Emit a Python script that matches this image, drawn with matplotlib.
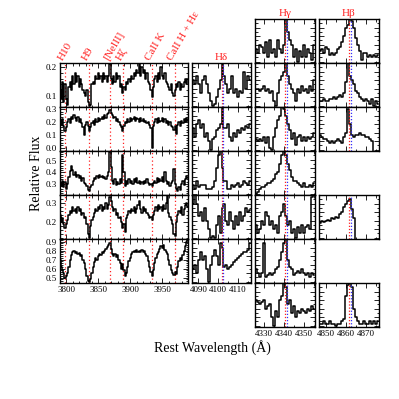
import numpy as np
import matplotlib
matplotlib.use('Agg')
import matplotlib.pyplot as plt
from matplotlib.ticker import MultipleLocator, AutoMinorLocator, NullFormatter

plt.rcParams['font.family'] = ['Liberation Serif', 'DejaVu Serif']
plt.rcParams['mathtext.fontset'] = 'stix'

# ---- data ----
# main spectra: 3790-3990 A in 2 A bins, one list per row (top to bottom)
main_start = 3790
main_step = 2
flux_1 = [0.12, 0.09, 0.15, 0.08, 0.14, 0.09, 0.07, 0.13, 0.15, 0.12, 0.17, 0.14, 0.18, 0.15, 0.17, 0.13, 0.16,
          0.14, 0.12, 0.11, 0.10, 0.12, 0.08, 0.065, 0.07, 0.14, 0.15, 0.14, 0.17, 0.16, 0.18, 0.16, 0.17, 0.15,
          0.18, 0.16, 0.17, 0.15, 0.17, 0.21, 0.16, 0.14, 0.17, 0.15, 0.18, 0.16, 0.17, 0.13, 0.14, 0.11, 0.13,
          0.12, 0.15, 0.14, 0.16, 0.15, 0.17, 0.16, 0.18, 0.17, 0.19, 0.18, 0.21, 0.17, 0.20, 0.18, 0.19, 0.16,
          0.18, 0.15, 0.14, 0.12, 0.095, 0.13, 0.16, 0.17, 0.15, 0.18, 0.16, 0.20, 0.17, 0.16, 0.18, 0.15, 0.14,
          0.13, 0.12, 0.14, 0.11, 0.10, 0.12, 0.14, 0.13, 0.15, 0.12, 0.14, 0.13, 0.15, 0.16, 0.14, 0.16]
flux_2 = [0.21, 0.18, 0.22, 0.17, 0.13, 0.16, 0.20, 0.22, 0.19, 0.24, 0.22, 0.25, 0.23, 0.21, 0.24, 0.20, 0.22,
          0.19, 0.16, 0.10, 0.18, 0.20, 0.17, 0.13, 0.16, 0.19, 0.21, 0.18, 0.22, 0.20, 0.23, 0.21, 0.22, 0.24,
          0.22, 0.25, 0.23, 0.26, 0.27, 0.29, 0.27, 0.25, 0.23, 0.24, 0.21, 0.22, 0.20, 0.18, 0.16, 0.13, 0.17,
          0.20, 0.19, 0.22, 0.20, 0.23, 0.21, 0.22, 0.24, 0.21, 0.23, 0.22, 0.20, 0.23, 0.21, 0.22, 0.20, 0.21,
          0.19, 0.20, 0.18, 0.15, 0.0, 0.17, 0.20, 0.22, 0.19, 0.23, 0.20, 0.21, 0.23, 0.20, 0.22, 0.19, 0.21,
          0.18, 0.20, 0.17, 0.16, 0.14, 0.17, 0.11, 0.18, 0.20, 0.17, 0.21, 0.19, 0.22, 0.20, 0.23, 0.21]
flux_3 = [0.31, 0.28, 0.33, 0.27, 0.32, 0.26, 0.30, 0.36, 0.41, 0.46, 0.42, 0.38, 0.40, 0.36, 0.38, 0.35, 0.37,
          0.33, 0.35, 0.31, 0.30, 0.28, 0.25, 0.24, 0.27, 0.29, 0.33, 0.35, 0.34, 0.37, 0.35, 0.38, 0.36, 0.37,
          0.35, 0.36, 0.34, 0.37, 0.40, 0.58, 0.45, 0.33, 0.30, 0.34, 0.29, 0.32, 0.30, 0.34, 0.31, 0.55, 0.40,
          0.28, 0.33, 0.30, 0.34, 0.31, 0.33, 0.30, 0.34, 0.32, 0.35, 0.31, 0.33, 0.30, 0.32, 0.30, 0.33, 0.31,
          0.34, 0.31, 0.29, 0.30, 0.28, 0.31, 0.33, 0.31, 0.35, 0.32, 0.34, 0.33, 0.36, 0.32, 0.40, 0.33, 0.30,
          0.32, 0.28, 0.31, 0.33, 0.43, 0.30, 0.26, 0.24, 0.27, 0.25, 0.30, 0.33, 0.29, 0.34, 0.37, 0.35]
flux_4 = [0.24, 0.20, 0.22, 0.19, 0.17, 0.19, 0.21, 0.24, 0.26, 0.25, 0.28, 0.26, 0.27, 0.25, 0.28, 0.26, 0.27,
          0.24, 0.25, 0.22, 0.23, 0.19, 0.14, 0.12, 0.18, 0.21, 0.23, 0.25, 0.27, 0.26, 0.28, 0.27, 0.29, 0.26,
          0.28, 0.27, 0.30, 0.27, 0.29, 0.33, 0.31, 0.28, 0.26, 0.27, 0.24, 0.25, 0.22, 0.23, 0.20, 0.17, 0.19,
          0.15, 0.22, 0.24, 0.26, 0.25, 0.27, 0.26, 0.28, 0.25, 0.27, 0.29, 0.31, 0.27, 0.25, 0.28, 0.26, 0.27,
          0.25, 0.24, 0.22, 0.23, 0.21, 0.24, 0.26, 0.28, 0.26, 0.29, 0.27, 0.28, 0.26, 0.29, 0.27, 0.30, 0.34,
          0.25, 0.23, 0.21, 0.19, 0.14, 0.13, 0.20, 0.24, 0.26, 0.25, 0.28, 0.24, 0.27, 0.29, 0.30, 0.28]
flux_5 = [0.70, 0.62, 0.58, 0.55, 0.50, 0.52, 0.55, 0.62, 0.70, 0.75, 0.78, 0.80, 0.77, 0.79, 0.76, 0.77, 0.74,
          0.75, 0.70, 0.66, 0.60, 0.52, 0.46, 0.45, 0.48, 0.55, 0.62, 0.67, 0.72, 0.70, 0.74, 0.76, 0.75, 0.79,
          0.77, 0.80, 0.82, 0.84, 0.86, 0.89, 0.82, 0.76, 0.74, 0.76, 0.73, 0.75, 0.70, 0.66, 0.60, 0.65, 0.58,
          0.52, 0.55, 0.62, 0.68, 0.72, 0.76, 0.78, 0.80, 0.78, 0.81, 0.79, 0.80, 0.78, 0.81, 0.79, 0.80, 0.76,
          0.74, 0.68, 0.62, 0.56, 0.52, 0.58, 0.66, 0.72, 0.76, 0.79, 0.82, 0.85, 0.83, 0.86, 0.81, 0.78, 0.76,
          0.70, 0.64, 0.58, 0.55, 0.53, 0.56, 0.54, 0.62, 0.68, 0.72, 0.70, 0.75, 0.80, 0.85, 0.90, 0.93]
main_flux = [flux_1, flux_2, flux_3, flux_4, flux_5]
main_ylims = [(0.062, 0.214), (-0.023, 0.315), (0.204, 0.587), (0.115, 0.34), (0.44, 0.93)]
main_yticks = [[0.1, 0.2], [0.0, 0.1, 0.2, 0.3], [0.3, 0.4, 0.5], [0.2, 0.3], [0.5, 0.6, 0.7, 0.8, 0.9]]

line_waves = [3798.0, 3835.4, 3868.8, 3889.1, 3933.7, 3969.0]
line_names = ['H10', 'H9', '[NeIII]', 'H\u03b6', 'CaII K', 'CaII H + H\u03b5']

# zoomed Balmer panels: 1 A bins from line-15 A, normalised flux
hdelta_wave = 4101.74
hdelta_rows = [1, 2, 3, 4, 5]
hdelta_flux = [
    [0.6, 0.5, 0.7, 0.5, 0.3, 0.6, 0.7, 0.5, 0.3, 0.1, 0.0, 0.05, 0.2, 0.4, 0.6, 1.0, 0.7, 0.5, 0.3, 0.4,
     0.7, 0.3, 0.4, 0.2, 0.35, 0.3, 0.8, 0.4, 0.7, 0.6],
    [0.5, 0.3, 0.6, 0.7, 0.5, 0.6, 0.3, 0.4, 0.2, 0.0, 0.25, 0.3, 0.45, 0.5, 0.6, 1.0, 0.5, 0.5, 0.6, 0.3,
     0.2, 0.4, 0.3, 0.45, 0.4, 0.5, 0.45, 0.55, 0.5, 0.6],
    [0.2, 0.1, 0.3, 0.15, 0.2, 0.2, 0.2, 0.1, 0.12, 0.1, 0.15, 0.3, 0.6, 0.9, 1.0, 0.6, 0.3, 0.3, 0.1, 0.1,
     0.2, 0.15, 0.2, 0.25, 0.15, 0.2, 0.3, 0.25, 0.2, 0.3],
    [0.8, 1.0, 0.8, 0.5, 0.6, 0.4, 0.7, 0.4, 0.2, 0.0, 0.05, 0.0, 0.3, 0.5, 0.1, 0.7, 0.8, 0.4, 0.3, 0.6,
     0.4, 0.2, 0.5, 0.3, 0.6, 0.4, 0.5, 0.7, 0.6, 0.65],
    [0.3, 0.4, 0.2, 0.5, 0.7, 0.5, 0.6, 0.3, 0.0, 0.4, 0.6, 0.75, 0.6, 0.4, 0.9, 0.8, 0.35, 0.4, 0.3, 0.35,
     0.4, 0.45, 0.5, 0.55, 0.6, 0.65, 0.7, 0.7, 0.75, 0.9],
]
hgamma_wave = 4340.47
hgamma_rows = [0, 1, 2, 3, 4, 5, 6]
hgamma_flux = [
    [0.3, 0.2, 0.4, 0.35, 0.2, 0.45, 0.1, 0.5, 0.2, 0.3, 0.1, 0.5, 0.3, 0.2, 0.4, 1.0, 0.7, 0.5, 0.4, 0.1,
     0.3, 0.0, 0.25, 0.1, 0.4, 0.1, 0.3, 0.2, 0.05, 0.4],
    [0.4, 0.4, 0.35, 0.4, 0.45, 0.35, 0.4, 0.3, 0.35, 0.1, 0.0, 0.3, 0.6, 0.7, 0.8, 1.0, 0.7, 0.5, 0.4, 0.3,
     0.1, 0.4, 0.3, 0.45, 0.35, 0.4, 0.3, 0.45, 0.35, 0.6],
    [0.25, 0.2, 0.25, 0.2, 0.3, 0.15, 0.3, 0.05, 0.0, 0.3, 0.5, 0.7, 0.8, 1.0, 0.95, 0.8, 0.6, 0.45, 0.25, 0.4,
     0.1, 0.3, 0.35, 0.2, 0.3, 0.2, 0.3, 0.25, 0.3, 0.4],
    [0.0, 0.05, 0.1, 0.15, 0.15, 0.2, 0.25, 0.25, 0.3, 0.35, 0.45, 0.5, 0.7, 0.9, 1.0, 0.9, 0.7, 0.55, 0.4, 0.3,
     0.3, 0.25, 0.2, 0.15, 0.25, 0.15, 0.15, 0.2, 0.15, 0.25],
    [0.3, 0.1, 0.2, 0.4, 0.3, 0.6, 0.5, 0.3, 0.4, 0.2, 0.3, 0.1, 0.5, 0.6, 0.8, 0.5, 0.3, 0.4, 0.1, 0.2,
     0.0, 0.25, 0.1, 0.3, 0.1, 0.25, 0.3, 0.2, 0.95, 1.0],
    [0.3, 0.2, 0.1, 0.2, 0.9, 0.1, 0.15, 0.2, 0.15, 0.2, 0.3, 0.35, 0.5, 0.7, 0.9, 1.0, 0.5, 0.35, 0.3, 0.15,
     0.2, 0.25, 0.2, 0.3, 0.2, 0.15, 0.2, 0.1, 0.2, 0.15],
    [0.6, 0.55, 0.5, 0.55, 0.6, 0.4, 0.45, 0.5, 0.2, 0.0, 0.35, 0.2, 0.6, 0.7, 1.0, 0.9, 0.5, 0.6, 0.3, 0.45,
     0.2, 0.35, 0.3, 0.4, 0.35, 0.3, 0.4, 0.35, 0.45, 0.4],
]
hbeta_wave = 4861.33
hbeta_rows = [0, 1, 2, 4, 6]
hbeta_flux = [
    [0.25, 0.3, 0.2, 0.35, 0.3, 0.15, 0.2, 0.15, 0.2, 0.3, 0.35, 0.45, 0.6, 0.8, 0.85, 1.0, 0.95, 0.8, 0.55, 0.4,
     0.25, 0.05, 0.2, 0.2, 0.1, 0.15, 0.1, 0.15, 0.1, 0.15],
    [0.1, 0.1, 0.15, 0.1, 0.1, 0.15, 0.15, 0.2, 0.15, 0.2, 0.25, 0.2, 0.3, 0.55, 1.0, 0.7, 0.6, 0.5, 0.35, 0.3,
     0.2, 0.15, 0.1, 0.15, 0.1, 0.05, 0.15, 0.0, 0.1, 0.05],
    [0.35, 0.3, 0.25, 0.25, 0.2, 0.15, 0.2, 0.15, 0.2, 0.25, 0.2, 0.15, 0.3, 0.4, 0.95, 0.6, 0.35, 0.3, 0.35, 0.35,
     0.4, 0.35, 0.35, 0.3, 0.3, 0.25, 0.2, -0.1],
    [0.35, 0.38, 0.36, 0.40, 0.42, 0.40, 0.45, 0.43, 0.48, 0.46, 0.55, 0.60, 0.72, 0.78, 0.85, 0.9, 0.68, 0.45,
     -0.1],
    [0.05, 0.05, 0.1, 0.05, 0.05, 0.1, 0.05, 0.05, 0.0, 0.05, 0.05, 0.1, 0.15, 0.7, 0.95, 1.0, 0.9, 0.4, 0.2, 0.1,
     0.05, 0.05, 0.1, 0.05, 0.05, 0.1, 0.05, 0.1, 0.05, 0.1],
]

# ---- layout (pixels) ----
W = 399.0
ROW_TOP = 19
ROW_H = 44
col_main = (60, 188)
col_hd = (192, 251)
col_hg = (255, 315)
col_hb = (319, 379)
RED = '#ff2020'
BLUE = '#3030ff'
TICK_FS = 6.5

fig = plt.figure(figsize=(W / 100, W / 100), dpi=100)


def add_panel(col, row):
    top = ROW_TOP + ROW_H * row
    ax = fig.add_axes([col[0] / W, 1 - (top + ROW_H) / W, (col[1] - col[0]) / W, ROW_H / W])
    for s in ax.spines.values():
        s.set_linewidth(1.0)
    ax.tick_params(which='both', direction='in', top=True, right=True, labelsize=TICK_FS, width=0.6, pad=2.5)
    ax.tick_params(which='major', length=3.5)
    ax.tick_params(which='minor', length=1.8)
    return ax


# main spectra
for i, flux in enumerate(main_flux):
    ax = add_panel(col_main, i + 1)
    wl = main_start + main_step * np.arange(len(flux))
    for lw_ in line_waves:
        ax.axvline(lw_, color=RED, ls=(0, (1, 2)), lw=0.9)
    ax.plot(wl, flux, drawstyle='steps-mid', color='black', lw=1.1)
    ax.set_xlim(3790, 3990)
    ax.set_ylim(*main_ylims[i])
    ax.set_yticks(main_yticks[i])
    ax.yaxis.set_major_formatter(plt.FormatStrFormatter('%.1f'))
    ax.yaxis.set_minor_locator(AutoMinorLocator(5))
    ax.xaxis.set_major_locator(MultipleLocator(50))
    ax.xaxis.set_minor_locator(MultipleLocator(10))
    if i < len(main_flux) - 1:
        ax.xaxis.set_major_formatter(NullFormatter())
    if i == 0:
        for lw_, name in zip(line_waves, line_names):
            ax.text(lw_ - 1, 1.02, name, transform=ax.get_xaxis_transform(), color=RED,
                    rotation=60, rotation_mode='anchor', ha='left', va='bottom', fontsize=8)


def small_column(col, rows, fluxes, center, title, last_row):
    for row, flux in zip(rows, fluxes):
        ax = add_panel(col, row)
        wl = center - 14.5 + np.arange(len(flux))
        ax.plot(wl, flux, drawstyle='steps-mid', color='black', lw=1.1)
        ax.axvline(center, color=RED, ls=(0, (1, 1.5)), lw=0.9)
        ax.axvline(center + 0.8, color=BLUE, ls=(0, (1, 1.5)), lw=0.9)
        ax.set_xlim(center - 15, center + 15)
        ax.set_ylim(-0.03, 1.0)
        ax.xaxis.set_major_locator(MultipleLocator(10))
        ax.xaxis.set_minor_locator(MultipleLocator(5))
        ax.yaxis.set_major_locator(MultipleLocator(0.2))
        ax.yaxis.set_minor_locator(AutoMinorLocator(2))
        ax.yaxis.set_major_formatter(NullFormatter())
        if row != last_row:
            ax.xaxis.set_major_formatter(NullFormatter())
        else:
            ax.xaxis.set_major_formatter(plt.FormatStrFormatter('%d'))
        if row == rows[0]:
            ax.set_title(title, color=RED, fontsize=8, pad=2)


small_column(col_hd, hdelta_rows, hdelta_flux, hdelta_wave, 'H\u03b4', 5)
small_column(col_hg, hgamma_rows, hgamma_flux, hgamma_wave, 'H\u03b3', 6)
small_column(col_hb, hbeta_rows, hbeta_flux, hbeta_wave, 'H\u03b2', 6)

fig.text(212 / W, 1 - 348 / W, 'Rest Wavelength (\u00c5)', ha='center', va='center', fontsize=10)
fig.text(36 / W, 1 - 173 / W, 'Relative Flux', ha='center', va='center', rotation=90, fontsize=10)

fig.savefig('out.png', dpi=100)
